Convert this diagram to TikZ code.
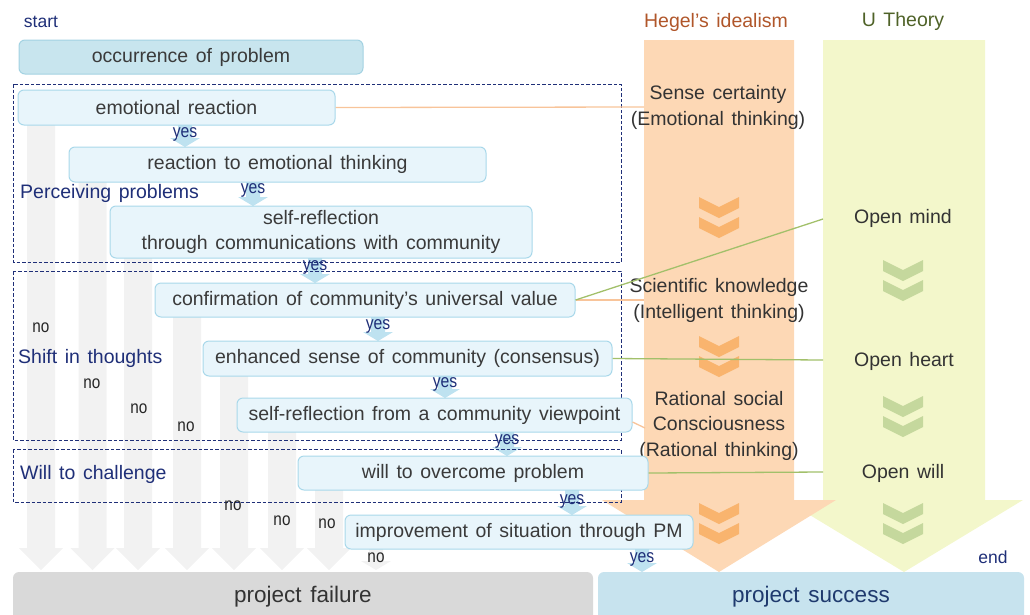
\documentclass[tikz,border=0pt]{standalone}
\usepackage{fontspec}
\setmainfont{Liberation Sans}[WordSpace=1.4]
\newfontfamily\condfont{Liberation Sans}[FakeStretch=0.85]
\definecolor{boxfill}{HTML}{E8F5FB}
\definecolor{boxline}{HTML}{A9D8EA}
\definecolor{occfill}{HTML}{C8E5EE}
\definecolor{occline}{HTML}{A3D2E2}
\definecolor{navy}{HTML}{1F2F78}
\definecolor{txt}{HTML}{3A3A3A}
\definecolor{colgray}{HTML}{F2F2F2}
\definecolor{yesblue}{HTML}{BEE2F0}
\definecolor{orangeA}{HTML}{FDD8B5}
\definecolor{orangeC}{HTML}{F9B46E}
\definecolor{greenA}{HTML}{F3F7CB}
\definecolor{greenC}{HTML}{C5D89D}
\definecolor{oline}{HTML}{F8C49A}
\definecolor{gline}{HTML}{A2C06A}
\definecolor{hegelc}{HTML}{B0562A}
\definecolor{utheoryc}{HTML}{4F6228}
\definecolor{failfill}{HTML}{D9D9D9}
\definecolor{succfill}{HTML}{C7E3EE}
\definecolor{succtxt}{HTML}{1F3A6E}
\tikzset{
  stepbox/.style={draw=boxline, fill=boxfill, line width=1pt, rounded corners=6pt,
    text=txt, font=\fontsize{19.5}{25}\selectfont, inner sep=0pt, align=center},
  occbox/.style={stepbox, draw=occline, fill=occfill},
  sectlbl/.style={text=navy, font=\fontsize{19.5}{24}\selectfont, inner sep=0pt, anchor=west},
  yeslbl/.style={text=navy, font=\condfont\fontsize{18.5}{18}\selectfont, inner sep=0pt},
  nolbl/.style={text=black!85, font=\condfont\fontsize{18}{18}\selectfont, inner sep=0pt},
  theory/.style={text=black!80, font=\fontsize{19.5}{25.5}\selectfont, align=center, inner sep=0pt},
  sectbox/.style={draw=navy, dash pattern=on 3.5pt off 2pt, line width=1pt},
  oconn/.style={draw=oline, line width=1.3pt},
  gconn/.style={draw=gline, line width=1.3pt},
  chevron/.pic={
    \fill (-20,0) -- (0,10) -- (20,0) -- (20,11) -- (0,21) -- (-20,11) -- cycle;
    \fill (-20,20) -- (0,30) -- (20,20) -- (20,31) -- (0,41) -- (-20,31) -- cycle;
  }
}
\begin{document}
\begin{tikzpicture}[x=1pt,y=-1pt]
\useasboundingbox (0,0) rectangle (1030,614);
\clip (0,0) rectangle (1030,614);

% gray "no" columns
\foreach \cx/\ya in {41/125, 92.5/182, 138/258, 187/317, 234/376, 282/432, 329/490}{
  \fill[colgray] (\cx-14,\ya) -- (\cx+14,\ya) -- (\cx+14,548) -- (\cx+22,548) -- (\cx,570)
    -- (\cx-22,548) -- (\cx-14,548) -- cycle;
}
\fill[colgray] (369,549) -- (383,549) -- (383,561) -- (391,561) -- (376,570) -- (361,561) -- (369,561) -- cycle;

% big theory arrows
\fill[greenA] (823,40) -- (985,40) -- (985,500) -- (1023,500) -- (904,572) -- (785,500) -- (823,500) -- cycle;
\fill[orangeA] (644,40) -- (794,40) -- (794,500) -- (836,500) -- (719,572) -- (602,500) -- (644,500) -- cycle;
\foreach \cy in {197,336,503}{ \pic[fill=orangeC] at (719,\cy) {chevron}; }
\foreach \cy in {260,396,503}{ \pic[fill=greenC] at (903,\cy) {chevron}; }

% yes arrows
\foreach \cx/\ya/\yb in {185/125/147, 253/182/206, 315/258/283, 378/317/341, 445/376/398, 507/432/456, 572/490/515, 642/549/572}{
  \fill[yesblue] (\cx-7,\ya) -- (\cx+7,\ya) -- (\cx+7,\yb-9) -- (\cx+15,\yb-9) -- (\cx,\yb)
    -- (\cx-15,\yb-9) -- (\cx-7,\yb-9) -- cycle;
}

% section boxes
\draw[sectbox] (13,84) rectangle (621,262);
\draw[sectbox] (13,271) rectangle (621,440);
\draw[sectbox] (13,449) rectangle (621,502);

% theory texts
\node[text=hegelc, font=\fontsize{19.5}{24}\selectfont, inner sep=0pt] (hegel) at (716,22) {Hegel's idealism};
\node[text=utheoryc, font=\fontsize{19.5}{24}\selectfont, inner sep=0pt] (utheory) at (903,21) {U Theory};
\node[theory] (h1) at (718,107.5) {Sense certainty\\(Emotional thinking)};
\node[theory] (h2) at (719,300.5) {Scientific knowledge\\(Intelligent thinking)};
\node[theory] (h3) at (719,425.5) {Rational social\\Consciousness\\(Rational thinking)};
\node[theory] (u1) at (903,218) {Open mind};
\node[theory] (u2) at (904,361) {Open heart};
\node[theory] (u3) at (903,473) {Open will};
\coordinate (h1in) at (644,107);
\coordinate (h2in) at (644,300);
\coordinate (h3in) at (645,428);
\coordinate (u1in) at (823,219);
\coordinate (u2in) at (823,360);
\coordinate (u3in) at (823,472);

% step boxes
\node[occbox, minimum width=344pt, minimum height=34pt] (occ) at (191,57) {occurrence of problem};
\node[stepbox, minimum width=317pt, minimum height=35pt] (er) at (176.5,107.5) {emotional reaction};
\node[stepbox, minimum width=417pt, minimum height=35pt] (rt) at (277.5,164.5) {reaction to emotional thinking};
\node[stepbox, minimum width=422pt, minimum height=52pt] (sr) at (321,232) {self-reflection\\through communications with community};
\node[stepbox, minimum width=420pt, minimum height=34pt] (cf) at (365,300) {confirmation of community's universal value};
\node[stepbox, minimum width=409pt, minimum height=35pt] (es) at (407.5,358.5) {enhanced sense of community (consensus)};
\node[stepbox, minimum width=395pt, minimum height=34pt] (sv) at (434.5,415) {self-reflection from a community viewpoint};
\node[stepbox, minimum width=350pt, minimum height=34pt] (wo) at (473,473) {will to overcome problem};
\node[stepbox, minimum width=348pt, minimum height=34pt] (im) at (519,532) {improvement of situation through PM};

% connectors to theories
\draw[oconn] (er.east) -- (h1in);
\draw[oconn] (cf.east) -- (h2in);
\draw[gconn] (cf.east) -- (u1in);
\draw[gconn] (es.east) -- (u2in);
\draw[oconn] ([yshift=-7pt]sv.east) -- (h3in);
\draw[gconn] (wo.east) -- (u3in);

% bottom bars
\node[fill=failfill, rounded corners=6pt, minimum width=580pt, minimum height=50pt, inner sep=0pt,
  text=black!80, font=\fontsize{22.5}{26}\selectfont] (fail) at (303,597) {project failure};
\node[fill=succfill, rounded corners=6pt, minimum width=426pt, minimum height=50pt, inner sep=0pt,
  text=succtxt, font=\fontsize{22.5}{26}\selectfont] (succ) at (811,597) {project success};

% labels
\node[text=navy, font=\fontsize{17.5}{17}\selectfont, inner sep=0pt] (start) at (41,22) {start};
\node[text=navy, font=\fontsize{17.5}{17}\selectfont, inner sep=0pt] (endl) at (993,557) {end};
\node[sectlbl] (s1) at (20,193) {Perceiving problems};
\node[sectlbl] (s2) at (18,358) {Shift in thoughts};
\node[sectlbl] (s3) at (20,474) {Will to challenge};

\foreach \x/\y [count=\i] in {185/134, 253/190, 315/267, 378/326, 445/384, 507/441, 572/501, 642/559}{
  \node[yeslbl] (yes\i) at (\x,\y) {yes};
}
\foreach \x/\y [count=\i] in {41/328, 92/384, 139/409, 186/427, 233/506, 282/521, 327/524, 376/558}{
  \node[nolbl] (no\i) at (\x,\y) {no};
}
\end{tikzpicture}
\end{document}
